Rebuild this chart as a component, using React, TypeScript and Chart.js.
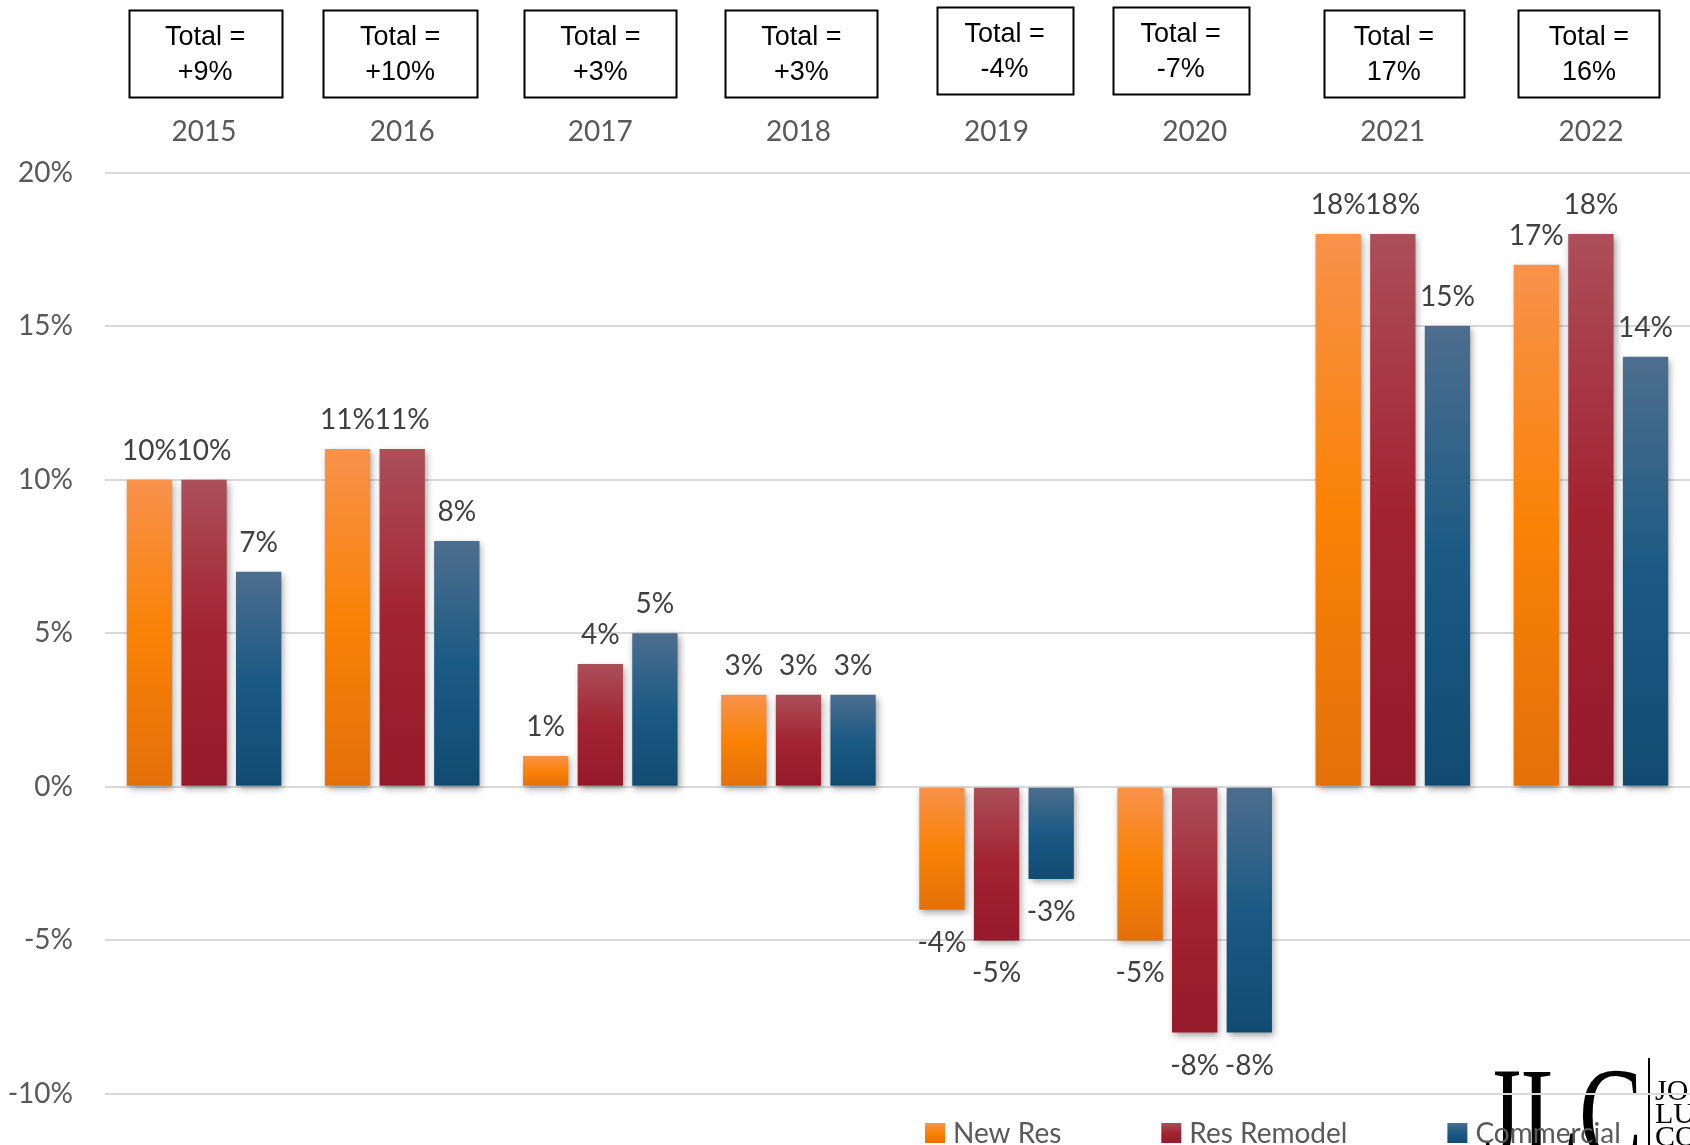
import React, { useEffect, useRef } from 'react';
import { Chart, registerables } from 'chart.js';

Chart.register(...registerables);

// Yearly growth by segment, in percent
const years = ['2015', '2016', '2017', '2018', '2019', '2020', '2021', '2022'];
const newRes = [10, 11, 1, 3, -4, -5, 18, 17];
const resRemodel = [10, 11, 4, 3, -5, -8, 18, 18];
const commercial = [7, 8, 5, 3, -3, -8, 15, 14];
const totals = ['+9%', '+10%', '+3%', '+3%', '-4%', '-7%', '17%', '16%'];
const seriesNames = ['New Res', 'Res Remodel', 'Commercial'];

const yMin = -10;
const yMax = 20;
const yStep = 5;

// Styling
const W = 1690;
const H = 1145;
const FONT = 'Lato, "Open Sans", sans-serif';
const gradients: string[][] = [
  ['#F8924C', '#FA8205', '#E4700A'],
  ['#AB4F59', '#A32331', '#951A2A'],
  ['#4D6E8E', '#1B5A84', '#114B72'],
];
// Header box geometry (per year): width, horizontal nudge, top edge
const boxWidths = [153, 154, 152, 152, 136, 136, 140, 141];
const boxShift = [1, -2, 0, 3, 8, -14, 1, -2];
const boxTops = [10, 10, 10, 10, 7, 7, 10, 10];
const boxHeight = 87;

function gradientFill(ctx: any, stops: string[]) {
  const chart = ctx.chart;
  const y = chart.scales && chart.scales.y;
  if (!y || ctx.type !== 'data' || typeof ctx.raw !== 'number') return stops[1];
  const v = ctx.raw as number;
  const top = y.getPixelForValue(Math.max(v, 0));
  const bot = y.getPixelForValue(Math.min(v, 0));
  if (!isFinite(top) || !isFinite(bot) || top === bot) return stops[1];
  const g = chart.ctx.createLinearGradient(0, top, 0, bot);
  g.addColorStop(0, stops[0]);
  g.addColorStop(0.5, stops[1]);
  g.addColorStop(1, stops[2]);
  return g;
}

const logoPlugin = {
  id: 'logoMark',
  beforeDraw(chart: any) {
    const c = chart.ctx;
    c.save();
    c.fillStyle = '#000';
    c.textBaseline = 'alphabetic';
    c.textAlign = 'left';
    c.save();
    c.translate(1484, 1158);
    c.scale(0.72, 1);
    c.font = '132px "Liberation Serif", "DejaVu Serif", serif';
    c.fillText('JLC', 0, 0);
    c.restore();
    c.fillRect(1648, 1058, 2, 90);
    c.font = '30px "Liberation Serif", "DejaVu Serif", serif';
    c.fillText('JO', 1655, 1100);
    c.fillText('LU', 1655, 1123);
    c.fillText('CO', 1655, 1146);
    c.restore();
  },
};

const shadowPlugin = {
  id: 'barShadow',
  beforeDatasetsDraw(chart: any) {
    const c = chart.ctx;
    c.save();
    c.shadowColor = 'rgba(0,0,0,0.38)';
    c.shadowBlur = 7;
    c.shadowOffsetX = 2;
    c.shadowOffsetY = 3;
  },
  afterDatasetsDraw(chart: any) {
    chart.ctx.restore();
  },
};

const valueLabelPlugin = {
  id: 'valueLabels',
  afterDatasetsDraw(chart: any) {
    const c = chart.ctx;
    c.save();
    c.font = `28px ${FONT}`;
    c.fillStyle = '#404040';
    c.textAlign = 'center';
    c.textBaseline = 'middle';
    chart.data.datasets.forEach((ds: any, di: number) => {
      const meta = chart.getDatasetMeta(di);
      meta.data.forEach((el: any, i: number) => {
        const v = ds.data[i] as number;
        const y = v >= 0 ? el.y - 29 : el.y + 33;
        c.fillText(`${v}%`, el.x, y);
      });
    });
    c.restore();
  },
};

const headerPlugin = {
  id: 'totalBoxes',
  afterDraw(chart: any) {
    const c = chart.ctx;
    const xs = chart.scales.x;
    c.save();
    c.lineWidth = 2;
    c.strokeStyle = '#000';
    c.fillStyle = '#000';
    c.textAlign = 'center';
    c.textBaseline = 'middle';
    c.font = '27px "Liberation Sans", Arial, sans-serif';
    totals.forEach((t, i) => {
      const cx = xs.getPixelForValue(i) + boxShift[i];
      const w = boxWidths[i];
      const top = boxTops[i];
      c.strokeRect(Math.round(cx - w / 2) + 0.5, top + 0.5, w, boxHeight);
      const mid = top + boxHeight / 2;
      c.fillText('Total =', cx, mid - 16);
      c.fillText(t, cx, mid + 19);
    });
    c.restore();
  },
};

const legendPlugin = {
  id: 'bottomLegend',
  afterDraw(chart: any) {
    const c = chart.ctx;
    c.save();
    c.font = `28px ${FONT}`;
    c.textBaseline = 'middle';
    c.textAlign = 'left';
    let x = 925;
    const top = 1123;
    const size = 20;
    chart.data.datasets.forEach((ds: any, di: number) => {
      const stops = gradients[di];
      const g = c.createLinearGradient(0, top, 0, top + size);
      g.addColorStop(0, stops[0]);
      g.addColorStop(0.5, stops[1]);
      g.addColorStop(1, stops[2]);
      c.fillStyle = g;
      c.fillRect(x, top, size, size);
      c.fillStyle = '#595959';
      const label = ds.label as string;
      c.fillText(label, x + size + 8, top + size / 2 + 1);
      x += size + 8 + c.measureText(label).width + 100;
    });
    c.restore();
  },
};

export default function App() {
  const canvasRef = useRef<HTMLCanvasElement | null>(null);

  useEffect(() => {
    const canvas = canvasRef.current;
    if (!canvas) return;
    Chart.defaults.font.family = FONT;
    const seriesValues = [newRes, resRemodel, commercial];
    const chart = new Chart(canvas, {
      type: 'bar',
      data: {
        labels: years,
        datasets: seriesValues.map((vals, si) => ({
          label: seriesNames[si],
          data: vals,
          backgroundColor: (ctx: any) => gradientFill(ctx, gradients[si]),
          borderWidth: 0,
          categoryPercentage: 0.827,
          barPercentage: 0.83,
        })),
      },
      options: {
        responsive: false,
        animation: false,
        devicePixelRatio: 1,
        layout: { padding: { top: 0, left: 0, right: 0, bottom: 51 } },
        plugins: {
          legend: { display: false },
          tooltip: { enabled: false },
        },
        scales: {
          x: {
            position: 'top',
            grid: { display: false, drawTicks: false },
            border: { display: false },
            ticks: {
              color: '#595959',
              font: { size: 28, family: FONT },
              padding: 24,
              maxRotation: 0,
            },
            afterFit: (scale: any) => {
              scale.height = 172.5;
            },
          },
          y: {
            min: yMin,
            max: yMax,
            grid: { color: '#D9D9D9', lineWidth: 2, drawTicks: false },
            border: { display: false },
            ticks: {
              stepSize: yStep,
              color: '#595959',
              font: { size: 28, family: FONT },
              padding: 32,
              callback: (v: any) => `${v}%`,
            },
            afterFit: (scale: any) => {
              scale.width = 105;
            },
          },
        },
      },
      plugins: [logoPlugin, shadowPlugin, valueLabelPlugin, headerPlugin, legendPlugin],
    } as any);
    return () => chart.destroy();
  }, []);

  return (
    <div
      style={{
        position: 'fixed',
        left: 0,
        top: 0,
        width: W,
        height: H,
        overflow: 'hidden',
        background: '#fff',
      }}
    >
      <canvas ref={canvasRef} width={W} height={H} style={{ display: 'block', width: W, height: H }} />
    </div>
  );
}
